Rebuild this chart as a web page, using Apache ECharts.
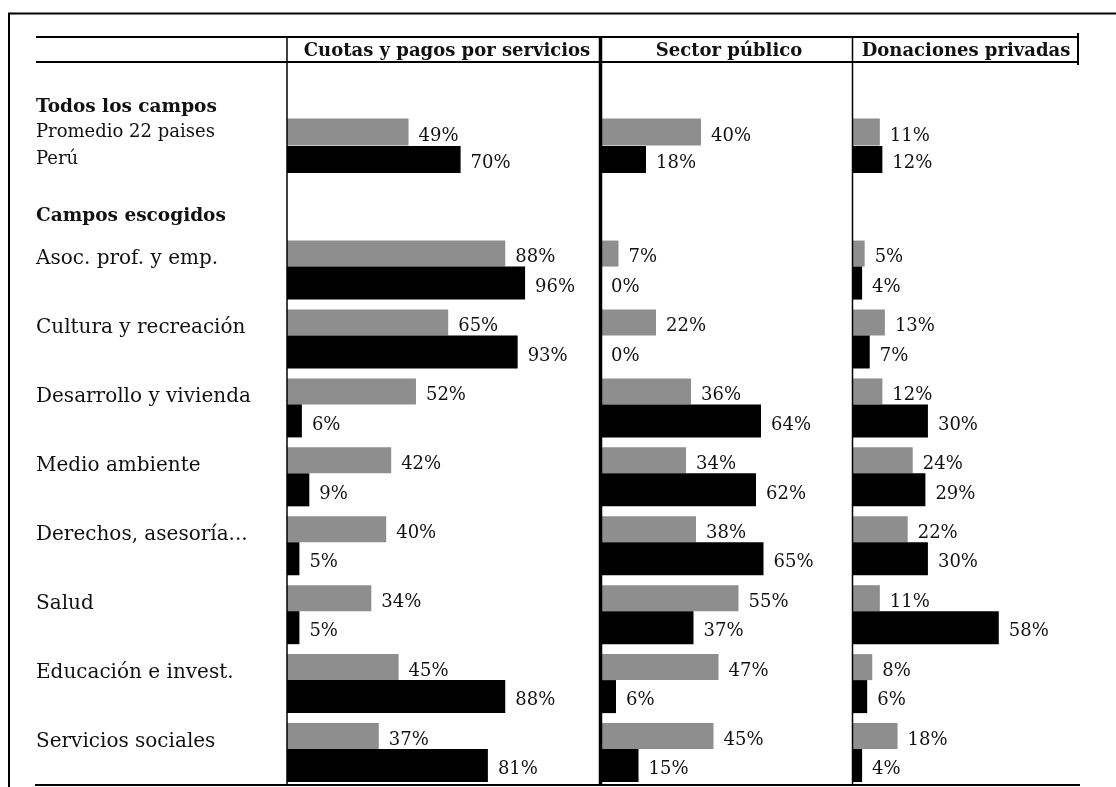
<!DOCTYPE html>
<html>
<head>
<meta charset="utf-8">
<script src="https://cdn.jsdelivr.net/npm/echarts@6.0.0/dist/echarts.min.js"></script>
<style>
html,body{margin:0;padding:0;background:#fff;}
#chart{width:1116px;height:787px;}
</style>
</head>
<body>
<div id="chart"></div>
<script>
// ---- data ----
const columns = ['Cuotas y pagos por servicios', 'Sector público', 'Donaciones privadas'];
const sections = ['Todos los campos', 'Campos escogidos'];
const seriesNames = ['Promedio 22 paises', 'Perú'];
const fields = ['Asoc. prof. y emp.', 'Cultura y recreación', 'Desarrollo y vivienda', 'Medio ambiente',
  'Derechos, asesoría...', 'Salud', 'Educación e invest.', 'Servicios sociales'];
const totalAvg = [49, 40, 11];
const totalPeru = [70, 18, 12];
const cuotasAvg = [88, 65, 52, 42, 40, 34, 45, 37];
const cuotasPeru = [96, 93, 6, 9, 5, 5, 88, 81];
const publicoAvg = [7, 22, 36, 34, 38, 55, 47, 45];
const publicoPeru = [0, 0, 64, 62, 65, 37, 6, 15];
const donacAvg = [5, 13, 12, 24, 22, 11, 8, 18];
const donacPeru = [4, 7, 30, 29, 30, 58, 6, 4];

// ---- layout ----
const GRAY = '#8e8e8e', BLACK = '#000', TXT = '#111';
const colLeft = [287, 601, 852];
const colWidth = [312, 251, 226];
const colMax = [125.8, 100.4, 89.3];
const rowTop = [118.25, 235.6];
const rowHeight = [55, 557.6];
const avgByCol = [cuotasAvg, publicoAvg, donacAvg];
const peruByCol = [cuotasPeru, publicoPeru, donacPeru];

const valueLabel = {
  show: true, position: 'right', distance: 10, offset: [0, 4],
  formatter: '{c}%', fontFamily: 'DejaVu Serif', fontSize: 18, color: TXT
};

const grid = [], xAxis = [], yAxis = [], series = [];
for (let r = 0; r < 2; r++) {
  for (let c = 0; c < 3; c++) {
    const gi = r * 3 + c;
    grid.push({ left: colLeft[c], top: rowTop[r], width: colWidth[c], height: rowHeight[r] });
    xAxis.push({ type: 'value', gridIndex: gi, min: 0, max: colMax[c], show: false, splitLine: { show: false } });
    const yLab = (c === 0)
      ? (r === 0
        ? { show: true, align: 'left', margin: colLeft[0] - 36, fontFamily: 'DejaVu Serif', fontSize: 18, color: TXT, padding: [6, 0, 0, 0] }
        : { show: true, align: 'left', margin: colLeft[0] - 36, fontFamily: 'DejaVu Serif', fontSize: 20, color: TXT, verticalAlign: 'bottom', lineHeight: 22 })
      : { show: false };
    yAxis.push({
      type: 'category', gridIndex: gi, inverse: true,
      data: r === 0 ? seriesNames : fields,
      axisLine: { show: false }, axisTick: { show: false }, splitLine: { show: false },
      axisLabel: yLab
    });
    if (r === 0) {
      series.push({
        type: 'bar', xAxisIndex: gi, yAxisIndex: gi, barWidth: 27,
        data: [{ value: totalAvg[c], itemStyle: { color: GRAY } }, { value: totalPeru[c], itemStyle: { color: BLACK } }],
        label: valueLabel
      });
    } else {
      series.push({
        name: seriesNames[0], type: 'bar', xAxisIndex: gi, yAxisIndex: gi, barWidth: 26, barGap: '0%',
        itemStyle: { color: GRAY }, data: avgByCol[c], label: valueLabel
      });
      series.push({
        name: seriesNames[1], type: 'bar', xAxisIndex: gi, yAxisIndex: gi, barWidth: 33, barGap: '0%',
        itemStyle: { color: BLACK }, data: peruByCol[c], label: valueLabel
      });
    }
  }
}

function line(x1, y1, x2, y2, w) {
  return { type: 'line', z: 100, shape: { x1, y1, x2, y2 }, style: { stroke: '#000', lineWidth: w } };
}
function text(t, x, y, size, weight, align) {
  return {
    type: 'text', z: 100, x, y,
    style: {
      text: t, fontFamily: 'DejaVu Serif', fontSize: size, fontWeight: weight, fill: TXT,
      align: align, verticalAlign: 'middle', textAlign: align, textVerticalAlign: 'middle'
    }
  };
}
const headCenters = [447, 729, 966];
const graphic = [
  line(8, 13.5, 1116, 13.5, 2),
  line(9, 13, 9, 787, 2),
  line(36, 37, 1078, 37, 2),
  line(36, 62, 1078, 62, 2),
  line(287, 37, 287, 785, 1.5),
  line(600.5, 37, 600.5, 785, 3.5),
  line(852.5, 37, 852.5, 785, 1.5),
  line(1078, 33, 1078, 65, 2),
  line(35, 785, 1080, 785, 2),
  text(columns[0], headCenters[0], 51, 18, 'bold', 'center'),
  text(columns[1], headCenters[1], 51, 18, 'bold', 'center'),
  text(columns[2], headCenters[2], 51, 18, 'bold', 'center'),
  text(sections[0], 36, 107, 18.5, 'bold', 'left'),
  text(sections[1], 36, 216, 18.5, 'bold', 'left')
];

const chart = echarts.init(document.getElementById('chart'), null, { renderer: 'canvas' });
chart.setOption({
  animation: false,
  backgroundColor: '#fff',
  grid, xAxis, yAxis, series, graphic
});
</script>
</body>
</html>
